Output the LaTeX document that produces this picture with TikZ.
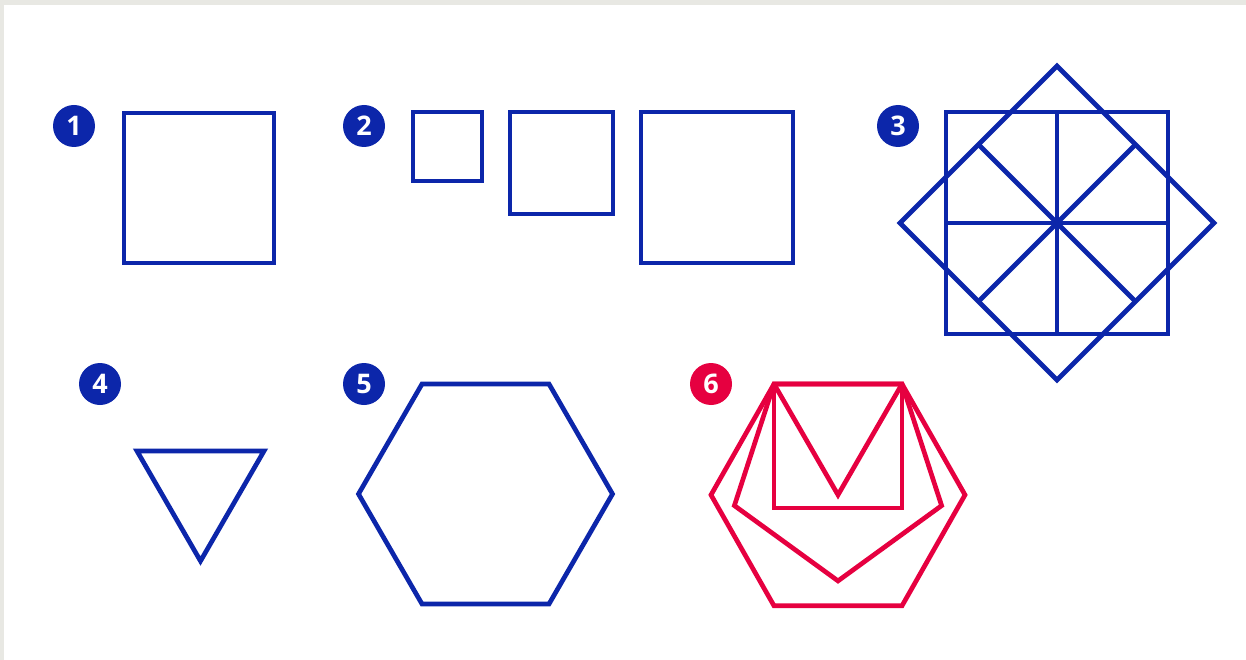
\documentclass[tikz,border=0pt]{standalone}
\usepackage{fontspec}
\setmainfont{Open Sans}
\usepackage{xcolor}
\usepackage{tikz}
\usetikzlibrary{calc}
\definecolor{ink}{RGB}{12,38,170}
\definecolor{rose}{RGB}{230,0,64}
\definecolor{frame}{RGB}{232,232,227}

\begin{document}
\begin{tikzpicture}[
  x=1pt, y=-1pt,
  badge/.style={circle, fill=ink, text=white, inner sep=0pt, minimum size=42pt, font=\fontsize{27}{27}\selectfont\bfseries},
  shp/.style={draw=ink, line width=4.7pt},
  rshp/.style={draw=rose, line width=4.7pt}
]
% page and frame
\fill[frame] (0,0) rectangle (1246,660);
\fill[white] (4,5) rectangle (1246,660);
\useasboundingbox (0,0) rectangle (1246,660);

% badges
\node[badge] (b1) at (74,126) {1};
\node[badge] (b2) at (364,126) {2};
\node[badge] (b3) at (898,126) {3};
\node[badge] (b4) at (100,384) {4};
\node[badge] (b5) at (364,384) {5};
\node[badge, fill=rose] (b6) at (711,384) {6};

% 1: one square
\draw[shp] (124,113) rectangle (274,263);

% 2: three squares
\draw[shp] (413,112) rectangle (482,181);
\draw[shp] (510,112) rectangle (613,214);
\draw[shp] (641,112) rectangle (793,263);

% 3: square and rotated square
\coordinate (c3) at (1057,223);
\draw[shp] ($(c3)+(-111,-111)$) rectangle ($(c3)+(111,111)$);
\draw[shp] ($(c3)+(0,-157)$) -- ($(c3)+(157,0)$) -- ($(c3)+(0,157)$) -- ($(c3)+(-157,0)$) -- cycle;
\draw[shp] ($(c3)+(0,-111)$) -- ($(c3)+(0,111)$);
\draw[shp] ($(c3)+(-111,0)$) -- ($(c3)+(111,0)$);
\draw[shp] ($(c3)+(-78.5,-78.5)$) -- ($(c3)+(78.5,78.5)$);
\draw[shp] ($(c3)+(78.5,-78.5)$) -- ($(c3)+(-78.5,78.5)$);

% 4: triangle
\draw[shp] (137,451) -- (264,451) -- (200.5,561) -- cycle;

% 5: hexagon
\draw[shp] (422,384) -- (549,384) -- (612.5,494) -- (549,604) -- (422,604) -- (358.5,494) -- cycle;

% 6: polygons on one edge
\coordinate (p) at (774,384);
\coordinate (q) at (902,384);
\draw[rshp] (p) -- (q) -- (965,494.9) -- (902,605.8) -- (774,605.8) -- (711,494.9) -- cycle;
\draw[rshp] (p) -- (q) -- (941.6,505.6) -- (838,580.9) -- (734.4,505.6) -- cycle;
\draw[rshp] (p) rectangle (902,508);
\draw[rshp] (p) -- (838,494.9) -- (q);
\end{tikzpicture}
\end{document}
